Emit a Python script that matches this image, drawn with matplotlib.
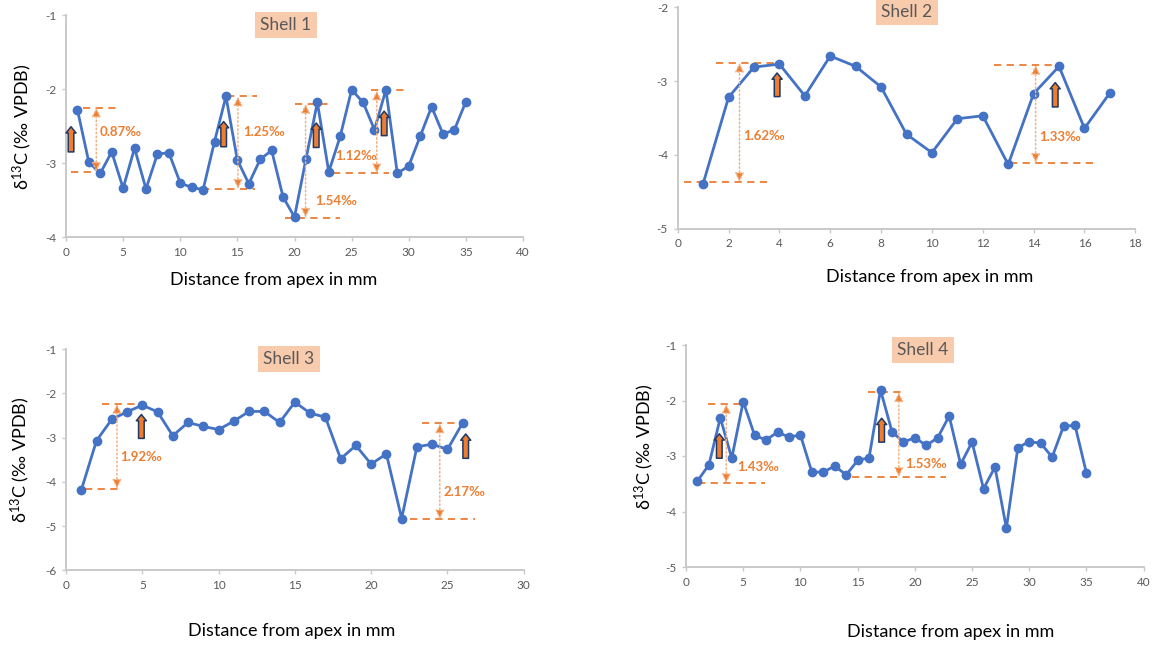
import matplotlib
matplotlib.use("Agg")
import matplotlib.pyplot as plt

plt.rcParams['font.family'] = ['Lato', 'DejaVu Sans']
plt.rcParams['mathtext.fontset'] = 'custom'
plt.rcParams['mathtext.rm'] = 'Lato'
plt.rcParams['mathtext.default'] = 'regular'
plt.rcParams['axes.unicode_minus'] = False

# delta13C profiles along four shells (distance from apex in mm)
s1_x = list(range(1, 36))
s1_d13c = [-2.28, -2.99, -3.14, -2.85, -3.34, -2.80, -3.35, -2.88, -2.86, -3.27,
           -3.33, -3.36, -2.71, -2.10, -2.96, -3.28, -2.95, -2.83, -3.46, -3.73,
           -2.95, -2.18, -3.12, -2.64, -2.01, -2.18, -2.55, -2.01, -3.14, -3.04,
           -2.64, -2.24, -2.61, -2.55, -2.17]

s2_x = list(range(1, 18))
s2_d13c = [-4.39, -3.22, -2.81, -2.77, -3.20, -2.66, -2.80, -3.08, -3.72, -3.97,
           -3.51, -3.47, -4.13, -3.17, -2.80, -3.64, -3.16]

s3_x = list(range(1, 27))
s3_d13c = [-4.19, -3.07, -2.59, -2.42, -2.27, -2.42, -2.96, -2.66, -2.75, -2.82,
           -2.63, -2.41, -2.41, -2.66, -2.20, -2.45, -2.54, -3.48, -3.18, -3.60,
           -3.37, -4.83, -3.21, -3.15, -3.27, -2.67]

s4_x = list(range(1, 36))
s4_d13c = [-3.45, -3.16, -2.31, -3.04, -2.02, -2.63, -2.71, -2.57, -2.66, -2.62,
           -3.29, -3.29, -3.18, -3.34, -3.08, -3.03, -1.81, -2.56, -2.75, -2.67,
           -2.81, -2.67, -2.28, -3.15, -2.75, -3.59, -3.20, -4.30, -2.85, -2.74,
           -2.77, -3.02, -2.46, -2.45, -3.31]

# amplitude of the marked cycles, in permil
s1_ranges = [0.87, 1.25, 1.54, 1.12]
s2_ranges = [1.62, 1.33]
s3_ranges = [1.92, 2.17]
s4_ranges = [1.43, 1.53]

BLUE = '#4472C4'
ORANGE = '#ED7D31'
LIGHT_ORANGE = '#F4B183'
NAVY = '#1F3864'
GRID_GREY = '#C9C9C9'
TEXT_GREY = '#595959'

W, H = 1162, 647
fig = plt.figure(figsize=(W / 100, H / 100), dpi=100)


def px_axes(left, top, right, bottom):
    return fig.add_axes([left / W, 1 - bottom / H, (right - left) / W, (bottom - top) / H])


def style_axes(ax, xlim, xstep, ylim):
    ax.set_xlim(*xlim)
    ax.set_ylim(*ylim)
    ax.set_xticks(range(xlim[0], xlim[1] + 1, xstep))
    ax.set_yticks(range(ylim[0], ylim[1] + 1))
    for side in ('top', 'right'):
        ax.spines[side].set_visible(False)
    for side in ('left', 'bottom'):
        ax.spines[side].set_color(GRID_GREY)
        ax.spines[side].set_linewidth(1.4)
    ax.tick_params(colors=GRID_GREY, labelcolor=TEXT_GREY, labelsize=8.5,
                   length=3, width=1, pad=4)
    ax.patch.set_alpha(0)


def cycle_marker(ax, value, vx, top, upper, lower, label_xy):
    bottom = top - value
    ax.plot(upper, [top, top], color=ORANGE, lw=1.3, ls=(0, (4, 3)))
    ax.plot(lower, [bottom, bottom], color=ORANGE, lw=1.3, ls=(0, (4, 3)))
    ax.annotate('', xy=(vx, top), xytext=(vx, bottom),
                arrowprops=dict(arrowstyle='<|-|>,head_length=0.45,head_width=0.22',
                                fc=ORANGE, ec=LIGHT_ORANGE, lw=1.1,
                                ls=':', shrinkA=0, shrinkB=0, mutation_scale=12))
    ax.text(label_xy[0], label_xy[1], f'{value:.2f}‰', color=ORANGE,
            fontsize=9.5, fontweight='bold', ha='left', va='center')


def block_arrow(ax, x, y0, y1):
    ax.annotate('', xy=(x, y1), xytext=(x, y0),
                arrowprops=dict(arrowstyle='simple,head_length=0.5,head_width=0.8,tail_width=0.45',
                                fc=ORANGE, ec=NAVY, lw=1.1, shrinkA=0, shrinkB=0,
                                mutation_scale=9), zorder=4)


def shell_title(xc, yc, text):
    fig.text(xc / W, 1 - yc / H, text, ha='center', va='center', fontsize=12.5,
             color=TEXT_GREY,
             bbox=dict(boxstyle='square,pad=0.3', fc='#F8CBAD', ec='none'))


def axis_labels(xlab_xy, ylab_xy):
    fig.text(xlab_xy[0] / W, 1 - xlab_xy[1] / H, 'Distance from apex in mm',
             ha='center', va='center', fontsize=13, color='black')
    if ylab_xy is not None:
        fig.text(ylab_xy[0] / W, 1 - ylab_xy[1] / H, r'δ$^{13}$C (‰ VPDB)',
                 ha='center', va='center', fontsize=13, rotation=90, color='black')


def profile(ax, x, y):
    ax.plot(x, y, color=BLUE, lw=2, marker='o', ms=6, mfc=BLUE, mec=BLUE, zorder=3)


# Shell 1
ax1 = px_axes(66, 15, 523, 237)
style_axes(ax1, (0, 40), 5, (-4, -1))
profile(ax1, s1_x, s1_d13c)
s1_marks = [(2.65, -2.25, (1.5, 4.7), (0.44, 3.56), (2.97, -2.58)),
            (15.05, -2.10, (14.06, 16.7), (11.9, 16.5), (15.5, -2.58)),
            (20.97, -2.20, (20.0, 23.1), (19.2, 24.0), (21.8, -3.51)),
            (27.2, -2.02, (26.7, 29.75), (23.4, 28.3), (23.6, -2.91))]
for value, spec in zip(s1_ranges, s1_marks):
    cycle_marker(ax1, value, *spec)
for x, y0, y1 in [(0.44, -2.85, -2.51), (13.8, -2.78, -2.44),
                  (21.9, -2.79, -2.46), (27.85, -2.63, -2.30)]:
    block_arrow(ax1, x, y0, y1)
shell_title(286, 25, 'Shell 1')
axis_labels((274, 280), (22, 127))

# Shell 2
ax2 = px_axes(677.7, 7.3, 1135.3, 228.7)
style_axes(ax2, (0, 18), 2, (-5, -2))
profile(ax2, s2_x, s2_d13c)
s2_marks = [(2.43, -2.75, (1.5, 4.0), (0.26, 3.54), (2.58, -3.74)),
            (14.08, -2.78, (12.44, 14.9), (13.07, 16.46), (14.22, -3.76))]
for value, spec in zip(s2_ranges, s2_marks):
    cycle_marker(ax2, value, *spec)
for x, y0, y1 in [(3.91, -3.21, -2.89), (14.85, -3.35, -3.02)]:
    block_arrow(ax2, x, y0, y1)
shell_title(907, 12, 'Shell 2')
axis_labels((930, 277), None)

# Shell 3
ax3 = px_axes(66, 349, 523.7, 570.3)
style_axes(ax3, (0, 30), 5, (-6, -1))
profile(ax3, s3_x, s3_d13c)
s3_marks = [(3.34, -2.24, (2.34, 4.85), (1.25, 3.58), (3.58, -3.43)),
            (24.5, -2.68, (23.35, 25.8), (22.55, 26.8), (24.77, -4.24))]
for value, spec in zip(s3_ranges, s3_marks):
    cycle_marker(ax3, value, *spec)
for x, y0, y1 in [(4.94, -3.02, -2.48), (26.2, -3.47, -2.92)]:
    block_arrow(ax3, x, y0, y1)
shell_title(289, 359, 'Shell 3')
axis_labels((292, 631), (20, 460))

# Shell 4
ax4 = px_axes(686, 345, 1143.7, 567)
style_axes(ax4, (0, 40), 5, (-5, -1))
profile(ax4, s4_x, s4_d13c)
s4_marks = [(3.52, -2.06, (1.95, 5.16), (1.08, 6.9), (4.43, -3.19)),
            (18.6, -1.85, (15.94, 19.0), (14.48, 22.7), (19.17, -3.15))]
for value, spec in zip(s4_ranges, s4_marks):
    cycle_marker(ax4, value, *spec)
for x, y0, y1 in [(2.91, -3.04, -2.60), (17.1, -2.75, -2.32)]:
    block_arrow(ax4, x, y0, y1)
shell_title(923, 350, 'Shell 4')
axis_labels((951, 632), (644, 447))

fig.savefig('out.png', dpi=100)
